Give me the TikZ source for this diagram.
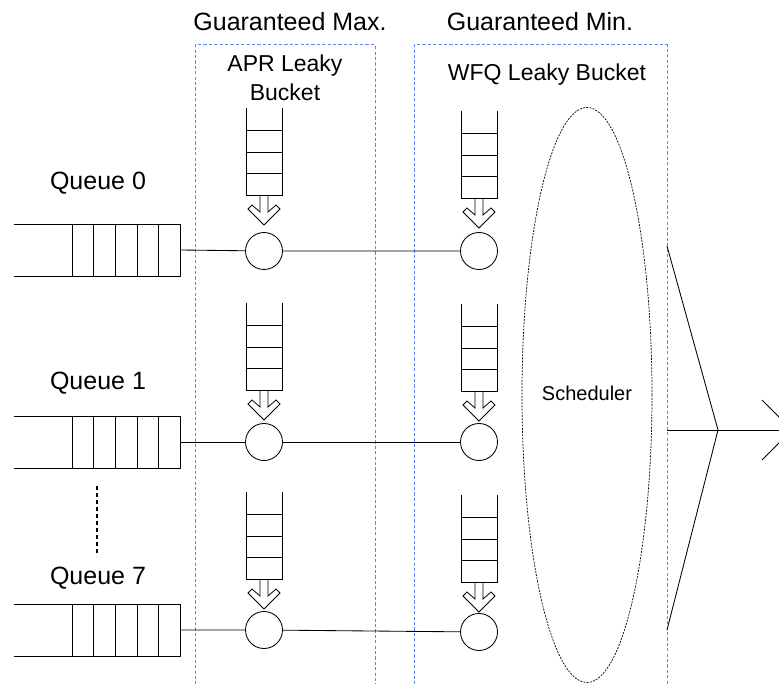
\documentclass[tikz,border=0pt]{standalone}
\usepackage{fontspec}
\usetikzlibrary{shapes.geometric}
\setmainfont{Liberation Sans}
\definecolor{boxblue}{RGB}{85,135,250}
\newcommand\qboxat[1]{%
  \draw[ln] (14,#1) -- (180,#1) -- (180,#1+52) -- (14,#1+52);
  \foreach \xx in {72,93,115,137,158} \draw[ln] (\xx,#1) -- (\xx,#1+52);
}
\newcommand\bucketat[2]{%
  \draw[ln] (#1-18,#2) -- (#1-18,#2+87) -- (#1+18,#2+87) -- (#1+18,#2);
  \foreach \dy in {22,44,65} \draw[ln] (#1-18,#2+\dy) -- (#1+18,#2+\dy);
  \draw[line width=0.8pt,line join=miter] (#1-4,#2+87) -- (#1-4,#2+104) -- (#1-12,#2+97) -- (#1-16,#2+101) -- (#1,#2+117) -- (#1+16,#2+101) -- (#1+12,#2+97) -- (#1+4,#2+104) -- (#1+4,#2+87);
}
\begin{document}
\begin{tikzpicture}[x=1pt,y=-1pt,
  ln/.style={line width=0.85pt},
  bluedash/.style={draw=boxblue,line width=1pt,dash pattern=on 3.2pt off 2.2pt},
  sched/.style={draw,line width=0.7pt,dash pattern=on 2pt off 1.2pt},
  bucketcircle/.style={circle,draw,line width=0.85pt,minimum size=37pt,inner sep=0pt},
  title/.style={font=\fontsize{25}{30}\selectfont,inner sep=0pt},
  sub/.style={font=\fontsize{23}{27}\selectfont,inner sep=0pt,align=center}]
\useasboundingbox (0,0) rectangle (779,684);
\clip (0,0) rectangle (779,684);
\fill[white] (0,0) rectangle (779,684);
% group boxes
\draw[bluedash] (195,690) -- (195,45) -- (375,45) -- (375,690);
\draw[bluedash] (414,690) -- (414,45) -- (667,45) -- (667,690);
% titles
\node[title] (tmax) at (290,22) {Guaranteed Max.};
\node[title] (tmin) at (540,22) {Guaranteed Min.};
\node[sub] (apr1) at (285,66) {APR Leaky};
\node[sub] (apr2) at (285,92) {Bucket};
\node[sub] (wfq) at (547,75) {WFQ Leaky Bucket};
% queue labels
\node[title] (ql0) at (98,183) {Queue 0};
\node[title] (ql1) at (98,383) {Queue 1};
\node[title] (ql7) at (98,578) {Queue 7};
% queues
\qboxat{224}
\qboxat{416}
\qboxat{604}
\coordinate (q0) at (180,250);
\coordinate (q1) at (180,442);
\coordinate (q7) at (180,630);
% dots
\draw[line width=2.8pt,dash pattern=on 4pt off 3pt] (97,486) -- (97,556);
% buckets
\bucketat{264}{108}
\bucketat{264}{303}
\bucketat{264}{492}
\bucketat{479}{111}
\bucketat{479}{304}
\bucketat{479}{495}
% circles
\node[bucketcircle] (a0) at (264,251) {};
\node[bucketcircle] (a1) at (264,442) {};
\node[bucketcircle] (a7) at (264,630) {};
\node[bucketcircle] (w0) at (479,251) {};
\node[bucketcircle] (w1) at (479,442) {};
\node[bucketcircle] (w7) at (479,632) {};
% connectors
\draw[ln] (q0) -- (a0) -- (w0);
\draw[ln] (q1) -- (a1) -- (w1);
\draw[ln] (q7) -- (a7) -- (w7);
% scheduler
\node[sched,ellipse,minimum width=130pt,minimum height=575pt,inner sep=0pt] (s) at (587,395) {};
\node[font=\fontsize{20}{24}\selectfont,inner sep=0pt] (slab) at (587,393) {Scheduler};
% output
\coordinate (m0) at (667,246);
\coordinate (m7) at (667,630);
\coordinate (mm) at (667,430);
\coordinate (o) at (718,430);
\coordinate (tip) at (792,430);
\draw[ln] (m0) -- (o) -- (m7);
\draw[ln] (mm) -- (tip);
\draw[ln] (762,400) -- (tip) -- (762,460);
\end{tikzpicture}
\end{document}
